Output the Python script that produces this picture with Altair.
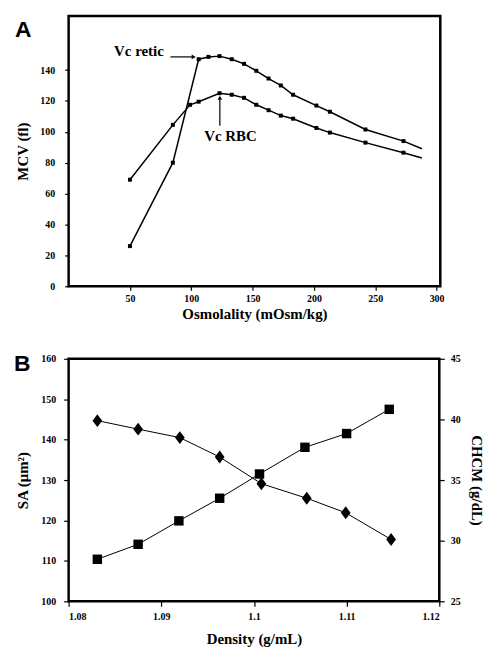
import altair as alt
import pandas as pd

# ---------------- Panel A data ----------------
osm_retic = [50, 85, 106, 114, 123, 133, 143, 153, 163, 173, 183, 202, 213, 242, 273, 288]
mcv_retic = [26, 80, 147, 148.5, 149, 147, 144, 139.5, 134.5, 130, 124, 117, 113, 101.5, 94, 89]
osm_rbc = [50, 85, 99, 106, 123, 133, 143, 153, 163, 173, 183, 202, 213, 242, 273, 288]
mcv_rbc = [69, 104.5, 117.5, 119.5, 125, 124, 122, 117.5, 114, 110.5, 108.5, 102.5, 99.5, 93, 86.5, 83]

ann_text = ["Vc retic", "Vc RBC"]
ann_x = [77.6, 132]
ann_y = [152, 97.5]
arrow_x = [83, 123.3]
arrow_x2 = [102, 123.3]
arrow_y = [148.5, 104]
arrow_y2 = [148.5, 121]
head_x = [102, 123.3]
head_y = [148.5, 122]
head_shape = ["triangle-right", "triangle-up"]

# ---------------- Panel B data ----------------
density_sq = [1.0831, 1.0875, 1.0919, 1.0963, 1.1006, 1.1055, 1.1100, 1.1146]
sa = [110.4, 114.1, 119.9, 125.5, 131.5, 138.1, 141.5, 147.5]
density_di = [1.0831, 1.0875, 1.0920, 1.0963, 1.1008, 1.1057, 1.1099, 1.1148]
chcm = [39.9, 39.2, 38.5, 36.9, 34.7, 33.5, 32.3, 30.1]

SERIF = "Liberation Serif"
SANS = "Liberation Sans"

AX = dict(labelFont=SERIF, labelFontWeight="bold", labelFontSize=10, labelColor="black",
          titleFont=SERIF, titleFontWeight="bold", titleFontSize=15, titleColor="black",
          tickColor="black", tickWidth=1.2, grid=False, domain=False)

retic = pd.DataFrame({"osm": osm_retic, "mcv": mcv_retic})
rbc = pd.DataFrame({"osm": osm_rbc, "mcv": mcv_rbc})
ann = pd.DataFrame({"t": ann_text, "osm": ann_x, "mcv": ann_y})
arrows = pd.DataFrame({"osm": arrow_x, "osm2": arrow_x2, "mcv": arrow_y, "mcv2": arrow_y2})
heads = pd.DataFrame({"osm": head_x, "mcv": head_y, "shape": head_shape})

xA_scale = alt.Scale(domain=[0, 303], nice=False, zero=False)
yA_scale = alt.Scale(domain=[0, 175], nice=False, zero=False)
xA_axis = alt.Axis(values=[50, 100, 150, 200, 250, 300], title="Osmolality (mOsm/kg)",
                   titleY=27, titleBaseline="middle", tickSize=4, labelPadding=3, **AX)
yA_axis = alt.Axis(values=[0, 20, 40, 60, 80, 100, 120, 140], title="MCV (fl)",
                   titleX=-46, titleBaseline="middle", tickSize=4, labelPadding=10, **AX)

def xA(field="osm"):
    return alt.X(f"{field}:Q", scale=xA_scale, axis=xA_axis)

def yA(field="mcv"):
    return alt.Y(f"{field}:Q", scale=yA_scale, axis=yA_axis)

def series(df):
    line = alt.Chart(df).mark_line(color="black", strokeWidth=1.5).encode(x=xA(), y=yA())
    pts = alt.Chart(df.iloc[:-1]).mark_point(shape="square", filled=True, size=16,
                                             color="black", opacity=1).encode(x=xA(), y=yA())
    return line + pts

ann_text_layer = alt.layer(
    alt.Chart(ann.iloc[[0]]).mark_text(font=SERIF, fontWeight="bold", fontSize=15,
                                       align="right", baseline="middle", color="black").encode(
        x=xA(), y=yA(), text="t:N"),
    alt.Chart(ann.iloc[[1]]).mark_text(font=SERIF, fontWeight="bold", fontSize=15,
                                       align="center", baseline="middle", color="black").encode(
        x=xA(), y=yA(), text="t:N"),
)
arrow_layer = alt.Chart(arrows).mark_rule(color="black", strokeWidth=1.2).encode(
    x=xA(), x2="osm2:Q", y=yA(), y2="mcv2:Q")
head_layer = alt.Chart(heads).mark_point(filled=True, size=22, color="black", opacity=1).encode(
    x=xA(), y=yA(), shape=alt.Shape("shape:N", scale=None))
labelA = alt.Chart(pd.DataFrame({"t": ["A"]})).mark_text(
    font=SANS, fontWeight="bold", fontSize=23, align="left", baseline="top", color="black").encode(
    x=alt.value(-54), y=alt.value(3), text="t:N")

panelA = alt.layer(series(retic), series(rbc), arrow_layer, head_layer, ann_text_layer, labelA).properties(
    width=374, height=272)

# ---------------- Panel B ----------------
sq = pd.DataFrame({"d": density_sq, "v": sa})
di = pd.DataFrame({"d": density_di, "v": chcm})

xB = alt.X("d:Q", scale=alt.Scale(domain=[1.08, 1.12], nice=False, zero=False),
           axis=alt.Axis(values=[1.08, 1.09, 1.1, 1.11, 1.12], format=".3~f", title="Density (g/mL)",
                         titleY=37, titleBaseline="middle", tickSize=5, labelPadding=5, **AX))
yL = alt.Y("v:Q", scale=alt.Scale(domain=[100, 160], nice=False, zero=False),
           axis=alt.Axis(values=[100, 110, 120, 130, 140, 150, 160], title="SA (μm²)", orient="left",
                         titleX=-46, titleBaseline="middle", tickSize=5, labelPadding=8, **AX))
yR = alt.Y("v:Q", scale=alt.Scale(domain=[25, 45], nice=False, zero=False),
           axis=alt.Axis(values=[25, 30, 35, 40, 45], title="CHCM   (g/dL)", orient="right",
                         titleX=37, titleBaseline="middle", tickSize=5, labelPadding=6, **AX))

left = alt.layer(
    alt.Chart(sq).mark_line(color="black", strokeWidth=1).encode(x=xB, y=yL),
    alt.Chart(sq).mark_point(shape="square", filled=True, size=90, color="black", opacity=1).encode(x=xB, y=yL),
)
right = alt.layer(
    alt.Chart(di).mark_line(color="black", strokeWidth=1).encode(x=xB, y=yR),
    alt.Chart(di).mark_point(shape="M0,-1L0.75,0L0,1L-0.75,0Z", filled=True, size=170,
                             color="black", opacity=1).encode(x=xB, y=yR),
)
labelB = alt.Chart(pd.DataFrame({"t": ["B"]})).mark_text(
    font=SANS, fontWeight="bold", fontSize=23, align="left", baseline="top", color="black").encode(
    x=alt.value(-55), y=alt.value(-6), text="t:N")

panelB = alt.layer(left, right, labelB).resolve_scale(y="independent").properties(width=373, height=244)

chart = alt.vconcat(panelA, panelB, spacing=73, bounds="flush", background="white",
                    padding={"left": 4, "top": 4, "right": 0, "bottom": 0}).configure_view(
    stroke="black", strokeWidth=2.5
)

chart.save("out.html", embed_options={"renderer": "svg", "actions": False})
